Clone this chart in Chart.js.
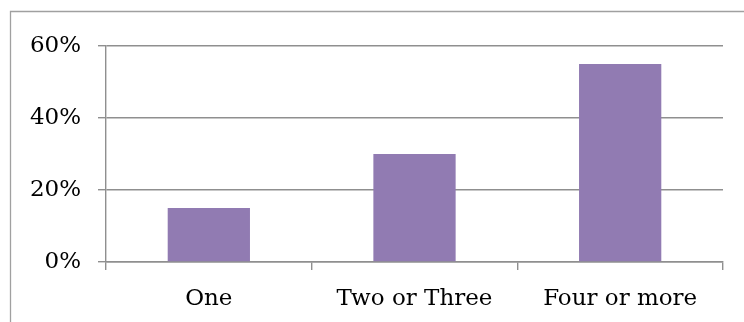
<!DOCTYPE html>
<html>
<head>
<meta charset="utf-8">
<script src="https://cdn.jsdelivr.net/npm/chart.js@4/dist/chart.umd.min.js"></script>
<style>
  html, body { margin: 0; padding: 0; background: #fff; overflow: hidden; }
  #wrap { width: 744px; height: 322px; position: relative; }
</style>
</head>
<body>
<div id="wrap"><canvas id="c" width="744" height="322"></canvas></div>
<script>
// Share of households by number of members (percent)
const categories = ['One', 'Two or Three', 'Four or more'];
const shares = [15, 30, 55];
const yTicks = [0, 20, 40, 60];

const gridColor = '#8f8f8f';
const barColor = '#917bb2';

// Frame around the chart (left and top edges visible)
const framePlugin = {
  id: 'frame',
  beforeDraw(chart) {
    const ctx = chart.ctx;
    ctx.save();
    ctx.strokeStyle = '#a0a0a0';
    ctx.lineWidth = 1.3;
    ctx.beginPath();
    ctx.moveTo(10.5, 322);
    ctx.lineTo(10.5, 11.5);
    ctx.lineTo(744, 11.5);
    ctx.stroke();
    ctx.restore();
  }
};

new Chart(document.getElementById('c'), {
  type: 'bar',
  data: {
    labels: categories,
    datasets: [{
      data: shares,
      backgroundColor: barColor,
      borderWidth: 0,
      barPercentage: 0.4,
      categoryPercentage: 1.0
    }]
  },
  options: {
    responsive: false,
    animation: false,
    devicePixelRatio: 1,
    layout: { padding: { left: 0, top: 46, right: 21, bottom: 0 } },
    plugins: { legend: { display: false }, tooltip: { enabled: false } },
    scales: {
      x: {
        offset: true,
        grid: {
          offset: true,
          drawOnChartArea: false,
          drawTicks: true,
          tickLength: 8,
          color: gridColor,
          lineWidth: 1.4
        },
        border: { display: true, color: gridColor, width: 1.4 },
        ticks: {
          color: '#000',
          padding: 15,
          maxRotation: 0,
          font: { family: 'DejaVu Serif', size: 23 }
        },
        afterFit(scale) { scale.height = 60; }
      },
      y: {
        min: 0,
        max: 60,
        afterBuildTicks(scale) { scale.ticks = yTicks.map(v => ({ value: v })); },
        grid: {
          drawOnChartArea: true,
          drawTicks: true,
          tickLength: 8,
          color: gridColor,
          lineWidth: 1.4
        },
        border: { display: true, color: gridColor, width: 1.4 },
        ticks: {
          color: '#000',
          padding: 17,
          callback: v => v + '%',
          font: { family: 'DejaVu Serif', size: 23 }
        },
        afterFit(scale) { scale.width = 106; }
      }
    }
  },
  plugins: [framePlugin]
});
</script>
</body>
</html>
